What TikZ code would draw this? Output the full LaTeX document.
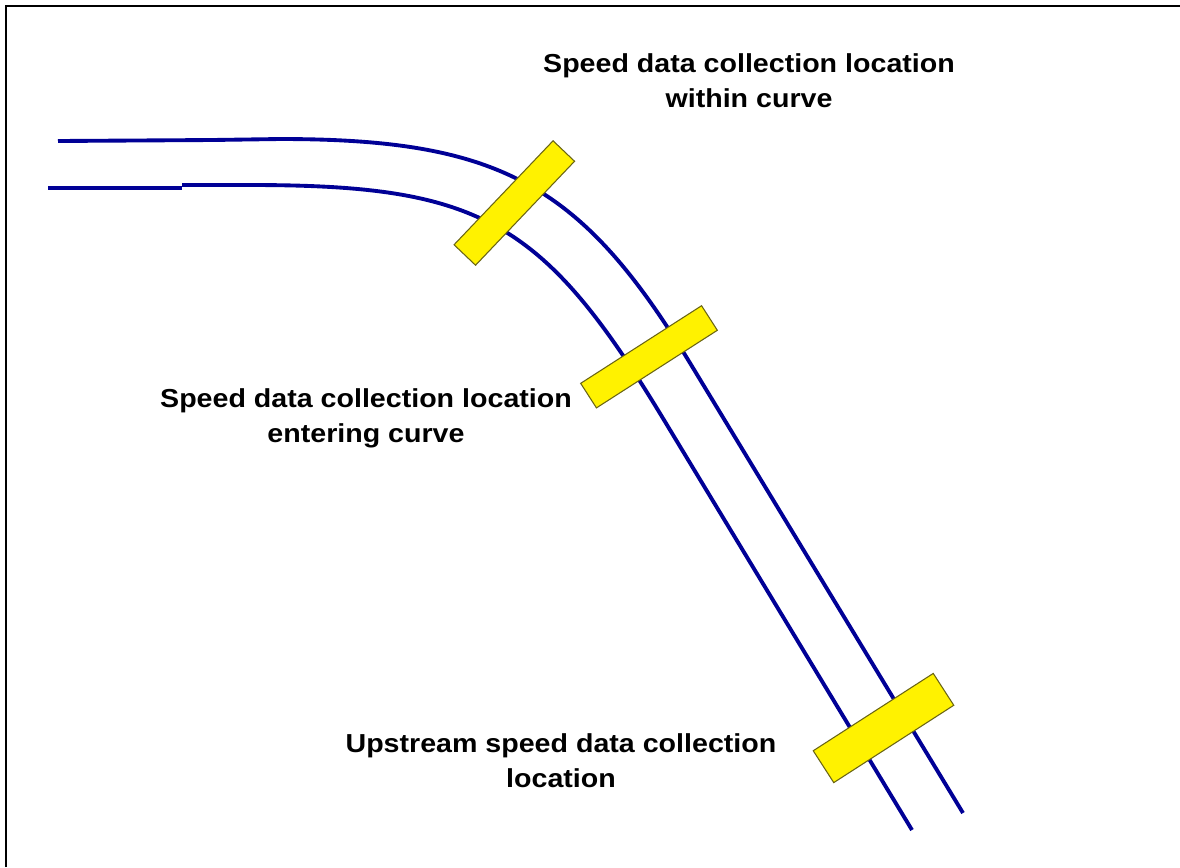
\documentclass[tikz,border=0pt]{standalone}
\usepackage{fontspec}
\newfontfamily\lblfont[FakeStretch=1.1]{Liberation Sans}
\definecolor{roadblue}{RGB}{0,0,150}
\definecolor{sensoredge}{RGB}{105,100,20}
\tikzset{
  road/.style={draw=roadblue, line width=2.2pt, line join=round},
  frame/.style={draw=black, line width=1.3pt},
  sensor/.style={draw=sensoredge, fill=yellow, line width=0.6pt, inner sep=0pt, outer sep=0pt},
  lbl/.style={font={\lblfont\bfseries\fontsize{14.8}{19.9}\selectfont}, align=center, inner sep=0pt, anchor=base}
}
\begin{document}
\begin{tikzpicture}[x=0.02cm, y=-0.02cm]
\useasboundingbox (0,0) rectangle (1180,867);
\fill[white] (0,0) rectangle (1180,867);
% frame (top and left)
\draw[frame] (5.8,867) -- (5.8,5.8) -- (1180,5.8);
% outer (upper) road edge
\draw[road] (58,141) -- (212,140) -- (280,139) .. controls (499.2,139) and (581,183.6) .. (689.4,362) -- (963,813);
% inner (lower) road edge
\draw[road] (48,188) -- (182,188);
\draw[road] (182,185) -- (250,185) .. controls (481.2,185) and (543.3,220.3) .. (664,420) -- (912,830);
% data collection locations
\node[sensor, minimum width=2.872cm, minimum height=0.594cm, rotate=46.4] (s1) at (514.3,203) {};
\node[sensor, minimum width=2.874cm, minimum height=0.584cm, rotate=32.7] (s2) at (649,356.8) {};
\node[sensor, minimum width=2.856cm, minimum height=0.758cm, rotate=32.8] (s3) at (883.5,728) {};
% labels (anchor = baseline of the last line)
\node[lbl] (t1) at (749,107) {Speed data collection location\\within curve};
\node[lbl] (t2) at (366,442) {Speed data collection location\\entering curve};
\node[lbl] (t3) at (561,787) {Upstream speed data collection\\location};
\end{tikzpicture}
\end{document}
